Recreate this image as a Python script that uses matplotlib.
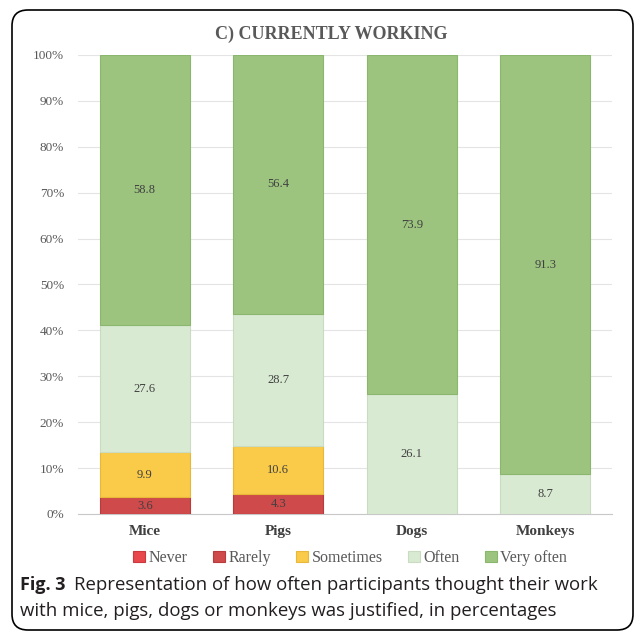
import matplotlib.pyplot as plt
from matplotlib.patches import FancyBboxPatch
import numpy as np

# data
animals = ["Mice", "Pigs", "Dogs", "Monkeys"]
levels = ["Never", "Rarely", "Sometimes", "Often", "Very often"]
never = [0.0, 0.0, 0.0, 0.0]
rarely = [3.6, 4.3, 0.0, 0.0]
sometimes = [9.9, 10.6, 0.0, 0.0]
often = [27.6, 28.7, 26.1, 8.7]
very_often = [58.8, 56.4, 73.9, 91.3]

colors = ["#E8474B", "#CF4A4A", "#F9CB48", "#D9EAD3", "#9CC47F"]
edges = ["#C83A3E", "#B83C3C", "#E8B83A", "#C9DCC2", "#8AB66D"]

serif = "Liberation Serif"
fig = plt.figure(figsize=(6.37, 6.34), dpi=100)

# rounded frame around figure + caption
frame = FancyBboxPatch((12 / 637, 4 / 634), 621 / 637, 620 / 634,
                       boxstyle="round,pad=0,rounding_size=0.025",
                       transform=fig.transFigure, facecolor="white",
                       edgecolor="black", linewidth=1.2, zorder=-10)
fig.patches.append(frame)

ax = fig.add_axes([78 / 637, 1 - 514 / 634, 534 / 637, 459 / 634])
ax.patch.set_alpha(0)

x = np.arange(len(animals))
series = [never, rarely, sometimes, often, very_often]
bottom = np.zeros(len(animals))
for vals, lab, c, ec in zip(series, levels, colors, edges):
    vals = np.array(vals)
    ax.bar(x, vals, 0.675, bottom=bottom, color=c, edgecolor=ec,
           linewidth=0.8, label=lab, zorder=3)
    for xi, v, b in zip(x, vals, bottom):
        if v > 0:
            ax.text(xi, b + v / 2, "%.1f" % v, ha="center", va="center",
                    fontsize=9, family=serif, color="#404040", zorder=4)
    bottom += vals

ax.set_xlim(-0.5, 3.5)
ax.set_ylim(0, 100)
ax.set_yticks(np.arange(0, 101, 10))
ax.set_yticklabels(["%d%%" % v for v in range(0, 101, 10)],
                   family=serif, fontsize=9.5, color="#595959")
ax.set_xticks(x)
ax.set_xticklabels(animals, family=serif, fontsize=11, fontweight="bold",
                   color="#404040")
ax.tick_params(axis="both", length=0)
ax.tick_params(axis="y", pad=10)
ax.tick_params(axis="x", pad=8)
ax.grid(axis="y", color="#E4E4E4", linewidth=0.8, zorder=0)
for s in ["top", "right", "left"]:
    ax.spines[s].set_visible(False)
ax.spines["bottom"].set_color("#C8C8C8")

fig.text(0.52, 1 - 34 / 634, "C) CURRENTLY WORKING", ha="center",
         va="center", family=serif, fontsize=13, fontweight="bold",
         color="#595959")

fig.legend(loc="center", bbox_to_anchor=(0.55, 1 - 558 / 634), ncol=5,
           frameon=False, handlelength=0.75, handleheight=0.75,
           handletextpad=0.2, columnspacing=1.6,
           prop={"family": serif, "size": 11.5}, labelcolor="#595959")

# caption
cap = "Open Sans"
t1 = fig.text(20 / 637, 1 - 585 / 634, "Fig. 3", ha="left", va="center",
              family=cap, fontsize=13, fontweight="bold", color="#231F20")
fig.canvas.draw()
bb = t1.get_window_extent().transformed(fig.transFigure.inverted())
fig.text(bb.x1 + 8 / 637, 1 - 585 / 634,
         "Representation of how often participants thought their work",
         ha="left", va="center", family=cap, fontsize=13.4, color="#231F20")
fig.text(20 / 637, 1 - 611 / 634,
         "with mice, pigs, dogs or monkeys was justified, in percentages",
         ha="left", va="center", family=cap, fontsize=13.4, color="#231F20")

fig.savefig("out.png", dpi=100)
